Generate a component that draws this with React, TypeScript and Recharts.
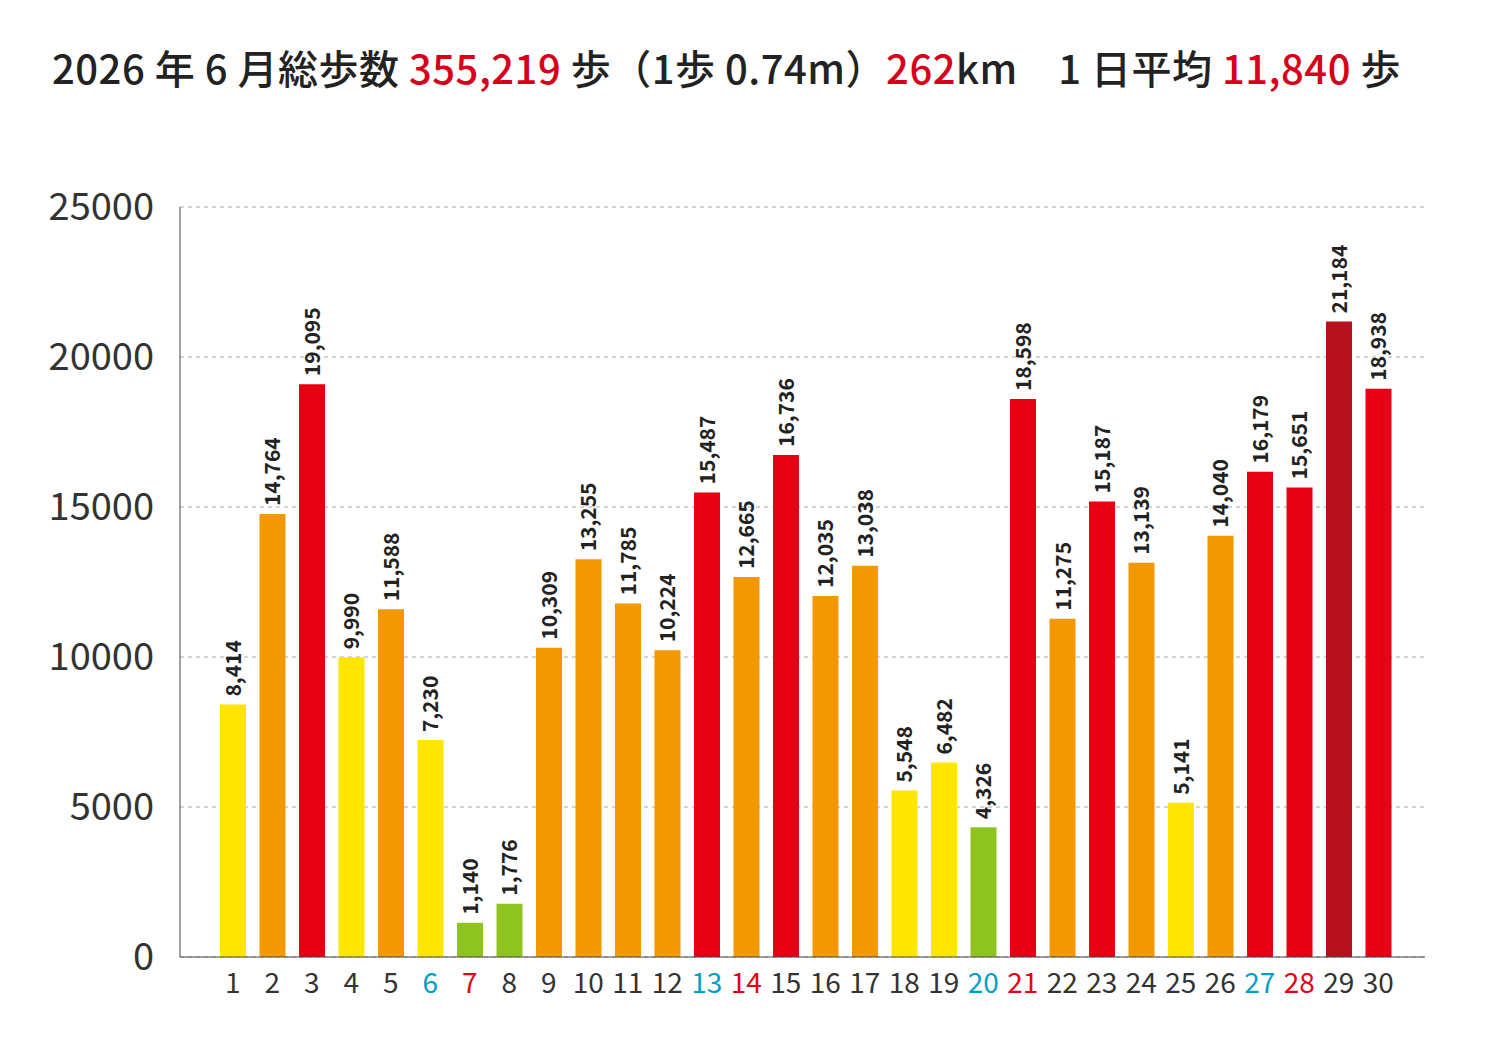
import React from 'react';
import { BarChart, Bar, XAxis, YAxis, CartesianGrid, Cell, LabelList } from 'recharts';

const days = Array.from({ length: 30 }, (_, i) => String(i + 1));
const steps = [8414, 14764, 19095, 9990, 11588, 7230, 1140, 1776, 10309, 13255, 11785, 10224, 15487, 12665, 16736, 12035, 13038, 5548, 6482, 4326, 18598, 11275, 15187, 13139, 5141, 14040, 16179, 15651, 21184, 18938];
const saturdays = ['6', '13', '20', '27'];
const sundays = ['7', '14', '21', '28'];
const yTicks = [0, 5000, 10000, 15000, 20000, 25000];

const data = days.map((d, i) => ({ day: d, steps: steps[i] }));

const colorFor = (v: number) => v < 5000 ? '#8fc31f' : v < 10000 ? '#ffe600' : v < 15000 ? '#f39800' : v < 20000 ? '#e60012' : '#b7111e';

const XTick = (p: any) => {
  const v = p.payload.value;
  const fill = saturdays.includes(v) ? '#00a0c6' : sundays.includes(v) ? '#e60012' : '#333';
  return <text x={p.x} y={p.y + 28} textAnchor="middle" fontSize={28} fill={fill}>{v}</text>;
};

const Lbl = (p: any) => {
  const x = p.x + p.width / 2 + 8;
  const y = p.y - 8;
  return <text x={x} y={y} transform={`rotate(-90 ${x} ${y})`} fontSize={21} fontWeight="bold" fill="#222">{Number(p.value).toLocaleString('en-US')}</text>;
};

export default function App() {
  const red = { color: '#d7001a' };
  return (
    <div style={{ position: 'absolute', left: 0, top: 0, width: 1500, height: 1050, background: '#fff', fontFamily: '"Noto Sans CJK JP", "Noto Sans", sans-serif' }}>
      <div style={{ position: 'absolute', left: 52, top: 38, fontSize: 40, fontWeight: 500, color: '#222', whiteSpace: 'nowrap', letterSpacing: 0.5 }}>
        2026 年 6 月総歩数 <span style={red}>355,219</span> 歩（1歩 0.74m）<span style={red}>262</span>km　1 日平均 <span style={red}>11,840</span> 歩
      </div>
      <BarChart width={1450} height={1050} data={data} margin={{ top: 207, right: 25, bottom: 63, left: 0 }} style={{ position: 'absolute', left: 0, top: 0 }}>
        <CartesianGrid horizontal vertical={false} strokeDasharray="4 4" stroke="#aaa" />
        <YAxis domain={[0, 25000]} ticks={yTicks} width={180} tick={{ fontSize: 38, fill: '#333' }} tickMargin={20} tickLine={false} axisLine={{ stroke: '#444' }} />
        <XAxis dataKey="day" tick={<XTick />} interval={0} tickLine={false} axisLine={{ stroke: '#444' }} padding={{ left: 33, right: 27 }} />
        <Bar dataKey="steps" barSize={26} isAnimationActive={false}>
          {data.map((d, i) => <Cell key={i} fill={colorFor(d.steps)} />)}
          <LabelList dataKey="steps" content={<Lbl />} />
        </Bar>
      </BarChart>
    </div>
  );
}
